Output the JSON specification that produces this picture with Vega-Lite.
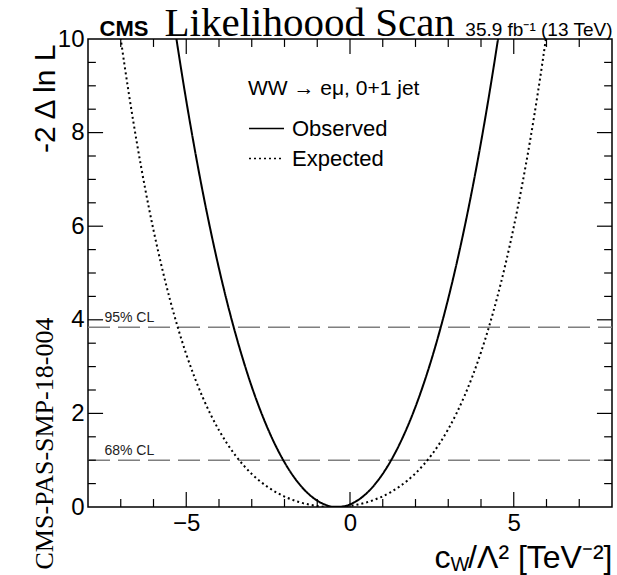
{
  "$schema": "https://vega.github.io/schema/vega-lite/v6.json",
  "width": 524,
  "height": 468,
  "autosize": {"type": "none"},
  "padding": {"left": 88, "top": 39, "right": 5, "bottom": 68},
  "background": "white",
  "config": {
    "view": {"stroke": "black", "strokeWidth": 1.5},
    "axis": {
      "grid": false,
      "domain": false,
      "ticks": false,
      "labelColor": "black",
      "labelFont": "Liberation Sans",
      "labelFontSize": 24,
      "labelFlush": false,
      "labelOverlap": false,
      "labelBound": false,
      "titleFont": "Liberation Sans",
      "titleColor": "black",
      "titleFontWeight": "normal"
    }
  },
  "datasets": {
    "cl": [
      {"level": "95% CL", "y": 3.84},
      {"level": "68% CL", "y": 1.0}
    ],
    "xticks": [
      {"v": -7, "major": false}, {"v": -6, "major": false}, {"v": -5, "major": true},
      {"v": -4, "major": false}, {"v": -3, "major": false}, {"v": -2, "major": false},
      {"v": -1, "major": false}, {"v": 0, "major": true}, {"v": 1, "major": false},
      {"v": 2, "major": false}, {"v": 3, "major": false}, {"v": 4, "major": false},
      {"v": 5, "major": true}, {"v": 6, "major": false}, {"v": 7, "major": false}
    ],
    "yticks": [
      {"v": 0.5, "major": false}, {"v": 1, "major": false}, {"v": 1.5, "major": false},
      {"v": 2, "major": true}, {"v": 2.5, "major": false}, {"v": 3, "major": false},
      {"v": 3.5, "major": false}, {"v": 4, "major": true}, {"v": 4.5, "major": false},
      {"v": 5, "major": false}, {"v": 5.5, "major": false}, {"v": 6, "major": true},
      {"v": 6.5, "major": false}, {"v": 7, "major": false}, {"v": 7.5, "major": false},
      {"v": 8, "major": true}, {"v": 8.5, "major": false}, {"v": 9, "major": false},
      {"v": 9.5, "major": false}
    ],
    "curves": [
      {"series": "Observed", "x": -5.5, "y": 10.95},
      {"series": "Observed", "x": -5.25, "y": 9.774},
      {"series": "Observed", "x": -5.0, "y": 8.685},
      {"series": "Observed", "x": -4.75, "y": 7.678},
      {"series": "Observed", "x": -4.5, "y": 6.744},
      {"series": "Observed", "x": -4.25, "y": 5.886},
      {"series": "Observed", "x": -4.0, "y": 5.094},
      {"series": "Observed", "x": -3.75, "y": 4.371},
      {"series": "Observed", "x": -3.5, "y": 3.711},
      {"series": "Observed", "x": -3.25, "y": 3.113},
      {"series": "Observed", "x": -3.0, "y": 2.571},
      {"series": "Observed", "x": -2.75, "y": 2.088},
      {"series": "Observed", "x": -2.5, "y": 1.658},
      {"series": "Observed", "x": -2.25, "y": 1.281},
      {"series": "Observed", "x": -2.0, "y": 0.955},
      {"series": "Observed", "x": -1.75, "y": 0.678},
      {"series": "Observed", "x": -1.5, "y": 0.45},
      {"series": "Observed", "x": -1.25, "y": 0.27},
      {"series": "Observed", "x": -1.0, "y": 0.135},
      {"series": "Observed", "x": -0.75, "y": 0.047},
      {"series": "Observed", "x": -0.5, "y": 0.004},
      {"series": "Observed", "x": -0.25, "y": 0.007},
      {"series": "Observed", "x": 0.0, "y": 0.055},
      {"series": "Observed", "x": 0.25, "y": 0.149},
      {"series": "Observed", "x": 0.5, "y": 0.289},
      {"series": "Observed", "x": 0.75, "y": 0.475},
      {"series": "Observed", "x": 1.0, "y": 0.709},
      {"series": "Observed", "x": 1.25, "y": 0.992},
      {"series": "Observed", "x": 1.5, "y": 1.324},
      {"series": "Observed", "x": 1.75, "y": 1.707},
      {"series": "Observed", "x": 2.0, "y": 2.142},
      {"series": "Observed", "x": 2.25, "y": 2.634},
      {"series": "Observed", "x": 2.5, "y": 3.181},
      {"series": "Observed", "x": 2.75, "y": 3.787},
      {"series": "Observed", "x": 3.0, "y": 4.454},
      {"series": "Observed", "x": 3.25, "y": 5.186},
      {"series": "Observed", "x": 3.5, "y": 5.984},
      {"series": "Observed", "x": 3.75, "y": 6.853},
      {"series": "Observed", "x": 4.0, "y": 7.793},
      {"series": "Observed", "x": 4.25, "y": 8.812},
      {"series": "Observed", "x": 4.5, "y": 9.91},
      {"series": "Observed", "x": 4.75, "y": 11.09},
      {"series": "Expected", "x": -7.25, "y": 11.3},
      {"series": "Expected", "x": -7.0, "y": 10.0},
      {"series": "Expected", "x": -6.75, "y": 8.821},
      {"series": "Expected", "x": -6.5, "y": 7.751},
      {"series": "Expected", "x": -6.25, "y": 6.785},
      {"series": "Expected", "x": -6.0, "y": 5.916},
      {"series": "Expected", "x": -5.75, "y": 5.137},
      {"series": "Expected", "x": -5.5, "y": 4.439},
      {"series": "Expected", "x": -5.25, "y": 3.818},
      {"series": "Expected", "x": -5.0, "y": 3.266},
      {"series": "Expected", "x": -4.75, "y": 2.778},
      {"series": "Expected", "x": -4.5, "y": 2.347},
      {"series": "Expected", "x": -4.25, "y": 1.97},
      {"series": "Expected", "x": -4.0, "y": 1.639},
      {"series": "Expected", "x": -3.75, "y": 1.352},
      {"series": "Expected", "x": -3.5, "y": 1.104},
      {"series": "Expected", "x": -3.25, "y": 0.89},
      {"series": "Expected", "x": -3.0, "y": 0.707},
      {"series": "Expected", "x": -2.75, "y": 0.552},
      {"series": "Expected", "x": -2.5, "y": 0.421},
      {"series": "Expected", "x": -2.25, "y": 0.313},
      {"series": "Expected", "x": -2.0, "y": 0.223},
      {"series": "Expected", "x": -1.75, "y": 0.151},
      {"series": "Expected", "x": -1.5, "y": 0.094},
      {"series": "Expected", "x": -1.25, "y": 0.052},
      {"series": "Expected", "x": -1.0, "y": 0.022},
      {"series": "Expected", "x": -0.75, "y": 0.005},
      {"series": "Expected", "x": -0.5, "y": 0.0},
      {"series": "Expected", "x": -0.25, "y": 0.006},
      {"series": "Expected", "x": 0.0, "y": 0.024},
      {"series": "Expected", "x": 0.25, "y": 0.055},
      {"series": "Expected", "x": 0.5, "y": 0.098},
      {"series": "Expected", "x": 0.75, "y": 0.156},
      {"series": "Expected", "x": 1.0, "y": 0.229},
      {"series": "Expected", "x": 1.25, "y": 0.32},
      {"series": "Expected", "x": 1.5, "y": 0.431},
      {"series": "Expected", "x": 1.75, "y": 0.563},
      {"series": "Expected", "x": 2.0, "y": 0.72},
      {"series": "Expected", "x": 2.25, "y": 0.905},
      {"series": "Expected", "x": 2.5, "y": 1.122},
      {"series": "Expected", "x": 2.75, "y": 1.373},
      {"series": "Expected", "x": 3.0, "y": 1.664},
      {"series": "Expected", "x": 3.25, "y": 1.998},
      {"series": "Expected", "x": 3.5, "y": 2.38},
      {"series": "Expected", "x": 3.75, "y": 2.814},
      {"series": "Expected", "x": 4.0, "y": 3.308},
      {"series": "Expected", "x": 4.25, "y": 3.865},
      {"series": "Expected", "x": 4.5, "y": 4.492},
      {"series": "Expected", "x": 4.75, "y": 5.196},
      {"series": "Expected", "x": 5.0, "y": 5.982},
      {"series": "Expected", "x": 5.25, "y": 6.859},
      {"series": "Expected", "x": 5.5, "y": 7.832},
      {"series": "Expected", "x": 5.75, "y": 8.912},
      {"series": "Expected", "x": 6.0, "y": 10.1},
      {"series": "Expected", "x": 6.25, "y": 11.41}
    ]
  },
  "layer": [
    {
      "data": {"name": "cl"},
      "transform": [{"filter": "datum.level === '95% CL'"}],
      "mark": {"type": "rule", "color": "#7f7f7f", "strokeWidth": 1.5, "strokeDash": [22, 8]},
      "encoding": {
        "x": {
          "datum": -8, "type": "quantitative",
          "scale": {"domain": [-8, 8], "nice": false, "zero": false},
          "axis": {
            "orient": "bottom",
            "values": [-5, 0, 5],
            "labelPadding": 4,
            "title": "/Λ² [TeV⁻²]",
            "titleFontSize": 32,
            "titleAlign": "right",
            "titleBaseline": "alphabetic",
            "titleAngle": 0,
            "titleX": 524,
            "titleY": 60
          }
        },
        "x2": {"datum": 8},
        "y": {
          "field": "y", "type": "quantitative",
          "scale": {"domain": [0, 10], "nice": false, "zero": false},
          "axis": {
            "orient": "left",
            "values": [0, 2, 4, 6, 8, 10],
            "format": "d",
            "labelPadding": 4,
            "title": "-2 Δ ln L",
            "titleFontSize": 30,
            "titleAngle": -90,
            "titleAlign": "right",
            "titleBaseline": "alphabetic",
            "titleX": -34,
            "titleY": 5
          }
        }
      }
    },
    {
      "data": {"name": "cl"},
      "transform": [{"filter": "datum.level === '68% CL'"}],
      "mark": {"type": "rule", "color": "#7f7f7f", "strokeWidth": 1.5, "strokeDash": [22, 8]},
      "encoding": {
        "x": {
          "datum": -8, "type": "quantitative",
          "scale": {"domain": [-8, 8], "nice": false, "zero": false},
          "axis": {
            "orient": "bottom",
            "labels": false,
            "title": "c",
            "titleFontSize": 32,
            "titleAlign": "left",
            "titleBaseline": "alphabetic",
            "titleX": 346,
            "titleY": 60
          }
        },
        "x2": {"datum": 8},
        "y": {
          "field": "y", "type": "quantitative",
          "scale": {"domain": [0, 10], "nice": false, "zero": false},
          "axis": {
            "orient": "left",
            "labels": false,
            "title": "CMS-PAS-SMP-18-004",
            "titleFont": "Liberation Serif",
            "titleFontSize": 26,
            "titleAngle": -90,
            "titleAlign": "left",
            "titleBaseline": "alphabetic",
            "titleX": -36,
            "titleY": 530
          }
        }
      }
    },
    {
      "data": {"name": "cl"},
      "transform": [{"filter": "datum.level === '95% CL'"}],
      "mark": {"type": "text", "align": "left", "baseline": "bottom", "dy": -2, "font": "Liberation Sans", "fontSize": 14, "color": "#222222"},
      "encoding": {
        "text": {"field": "level"},
        "x": {
          "datum": -7.5, "type": "quantitative",
          "scale": {"domain": [-8, 8], "nice": false, "zero": false},
          "axis": {
            "orient": "top",
            "labels": false,
            "title": "CMS",
            "titleFontSize": 22,
            "titleFontWeight": "bold",
            "titleAlign": "left",
            "titleBaseline": "alphabetic",
            "titleX": 11,
            "titleY": -4
          }
        },
        "y": {
          "field": "y", "type": "quantitative",
          "scale": {"domain": [0, 10], "nice": false, "zero": false},
          "axis": null
        }
      }
    },
    {
      "data": {"name": "cl"},
      "transform": [{"filter": "datum.level === '68% CL'"}],
      "mark": {"type": "text", "align": "left", "baseline": "bottom", "dy": -2, "font": "Liberation Sans", "fontSize": 14, "color": "#222222"},
      "encoding": {
        "text": {"field": "level"},
        "x": {
          "datum": -7.5, "type": "quantitative",
          "scale": {"domain": [-8, 8], "nice": false, "zero": false},
          "axis": {
            "orient": "top",
            "labels": false,
            "title": "Likelihoood Scan",
            "titleFont": "Liberation Serif",
            "titleFontSize": 41,
            "titleAlign": "left",
            "titleBaseline": "alphabetic",
            "titleX": 76,
            "titleY": -4
          }
        },
        "y": {
          "field": "y", "type": "quantitative",
          "scale": {"domain": [0, 10], "nice": false, "zero": false},
          "axis": null
        }
      }
    },
    {
      "data": {"name": "xticks"},
      "transform": [{"filter": "datum.major"}],
      "mark": {"type": "rule", "color": "black", "strokeWidth": 1.2},
      "encoding": {
        "x": {"field": "v", "type": "quantitative", "scale": {"domain": [-8, 8], "nice": false, "zero": false}, "axis": null},
        "y": {"datum": 0, "type": "quantitative", "scale": {"domain": [0, 10], "nice": false, "zero": false}, "axis": null},
        "y2": {"datum": 0.32}
      }
    },
    {
      "data": {"name": "xticks"},
      "transform": [{"filter": "!datum.major"}],
      "mark": {"type": "rule", "color": "black", "strokeWidth": 1.2},
      "encoding": {
        "x": {"field": "v", "type": "quantitative", "scale": {"domain": [-8, 8], "nice": false, "zero": false}, "axis": null},
        "y": {"datum": 0, "type": "quantitative", "scale": {"domain": [0, 10], "nice": false, "zero": false}, "axis": null},
        "y2": {"datum": 0.17}
      }
    },
    {
      "data": {"name": "xticks"},
      "transform": [{"filter": "datum.major"}],
      "mark": {"type": "rule", "color": "black", "strokeWidth": 1.2},
      "encoding": {
        "x": {"field": "v", "type": "quantitative", "scale": {"domain": [-8, 8], "nice": false, "zero": false}, "axis": null},
        "y": {"datum": 10, "type": "quantitative", "scale": {"domain": [0, 10], "nice": false, "zero": false}, "axis": null},
        "y2": {"datum": 9.68}
      }
    },
    {
      "data": {"name": "xticks"},
      "transform": [{"filter": "!datum.major"}],
      "mark": {"type": "rule", "color": "black", "strokeWidth": 1.2},
      "encoding": {
        "x": {"field": "v", "type": "quantitative", "scale": {"domain": [-8, 8], "nice": false, "zero": false}, "axis": null},
        "y": {"datum": 10, "type": "quantitative", "scale": {"domain": [0, 10], "nice": false, "zero": false}, "axis": null},
        "y2": {"datum": 9.83}
      }
    },
    {
      "data": {"name": "yticks"},
      "transform": [{"filter": "datum.major"}],
      "mark": {"type": "rule", "color": "black", "strokeWidth": 1.2},
      "encoding": {
        "y": {"field": "v", "type": "quantitative", "scale": {"domain": [0, 10], "nice": false, "zero": false}, "axis": null},
        "x": {"datum": -8, "type": "quantitative", "scale": {"domain": [-8, 8], "nice": false, "zero": false}, "axis": null},
        "x2": {"datum": -7.54}
      }
    },
    {
      "data": {"name": "yticks"},
      "transform": [{"filter": "!datum.major"}],
      "mark": {"type": "rule", "color": "black", "strokeWidth": 1.2},
      "encoding": {
        "y": {"field": "v", "type": "quantitative", "scale": {"domain": [0, 10], "nice": false, "zero": false}, "axis": null},
        "x": {"datum": -8, "type": "quantitative", "scale": {"domain": [-8, 8], "nice": false, "zero": false}, "axis": null},
        "x2": {"datum": -7.76}
      }
    },
    {
      "data": {"name": "yticks"},
      "transform": [{"filter": "datum.major"}],
      "mark": {"type": "rule", "color": "black", "strokeWidth": 1.2},
      "encoding": {
        "y": {"field": "v", "type": "quantitative", "scale": {"domain": [0, 10], "nice": false, "zero": false}, "axis": null},
        "x": {"datum": 8, "type": "quantitative", "scale": {"domain": [-8, 8], "nice": false, "zero": false}, "axis": null},
        "x2": {"datum": 7.54}
      }
    },
    {
      "data": {"name": "yticks"},
      "transform": [{"filter": "!datum.major"}],
      "mark": {"type": "rule", "color": "black", "strokeWidth": 1.2},
      "encoding": {
        "y": {"field": "v", "type": "quantitative", "scale": {"domain": [0, 10], "nice": false, "zero": false}, "axis": null},
        "x": {"datum": 8, "type": "quantitative", "scale": {"domain": [-8, 8], "nice": false, "zero": false}, "axis": null},
        "x2": {"datum": 7.76}
      }
    },
    {
      "data": {"name": "curves"},
      "transform": [{"filter": "datum.series === 'Observed'"}],
      "mark": {"type": "line", "color": "black", "strokeWidth": 2, "clip": true, "interpolate": "monotone"},
      "encoding": {
        "x": {
          "field": "x", "type": "quantitative",
          "scale": {"domain": [-8, 8], "nice": false, "zero": false},
          "axis": {
            "orient": "bottom", "labels": false,
            "title": "W",
            "titleFontSize": 20,
            "titleAlign": "left",
            "titleBaseline": "alphabetic",
            "titleX": 362,
            "titleY": 63
          }
        },
        "y": {
          "field": "y", "type": "quantitative",
          "scale": {"domain": [0, 10], "nice": false, "zero": false},
          "axis": null
        },
        "strokeDash": {
          "field": "series", "type": "nominal",
          "scale": {"domain": ["Observed", "Expected"], "range": [[1, 0], [2, 3]]},
          "legend": {
            "orient": "none",
            "legendX": 160,
            "legendY": 39,
            "title": "WW → eμ, 0+1 jet",
            "titleFont": "Liberation Sans",
            "titleFontSize": 21,
            "titleFontWeight": "normal",
            "titleColor": "black",
            "titlePadding": 11,
            "labelFont": "Liberation Sans",
            "labelFontSize": 22,
            "labelColor": "black",
            "labelOffset": 7,
            "symbolType": "stroke",
            "symbolSize": 1225,
            "symbolStrokeWidth": 1.5,
            "symbolStrokeColor": "black",
            "rowPadding": 0
          }
        }
      }
    },
    {
      "data": {"name": "curves"},
      "transform": [{"filter": "datum.series === 'Expected'"}],
      "mark": {"type": "line", "color": "black", "strokeWidth": 2, "clip": true, "interpolate": "monotone"},
      "encoding": {
        "x": {
          "field": "x", "type": "quantitative",
          "scale": {"domain": [-8, 8], "nice": false, "zero": false},
          "axis": {
            "orient": "top", "labels": false,
            "title": "35.9 fb⁻¹ (13 TeV)",
            "titleFontSize": 19,
            "titleAlign": "right",
            "titleBaseline": "alphabetic",
            "titleX": 524,
            "titleY": -4
          }
        },
        "y": {
          "field": "y", "type": "quantitative",
          "scale": {"domain": [0, 10], "nice": false, "zero": false},
          "axis": null
        },
        "strokeDash": {
          "field": "series", "type": "nominal",
          "scale": {"domain": ["Observed", "Expected"], "range": [[1, 0], [2, 3]]}
        }
      }
    }
  ],
  "resolve": {"axis": {"x": "independent", "y": "independent"}}
}
